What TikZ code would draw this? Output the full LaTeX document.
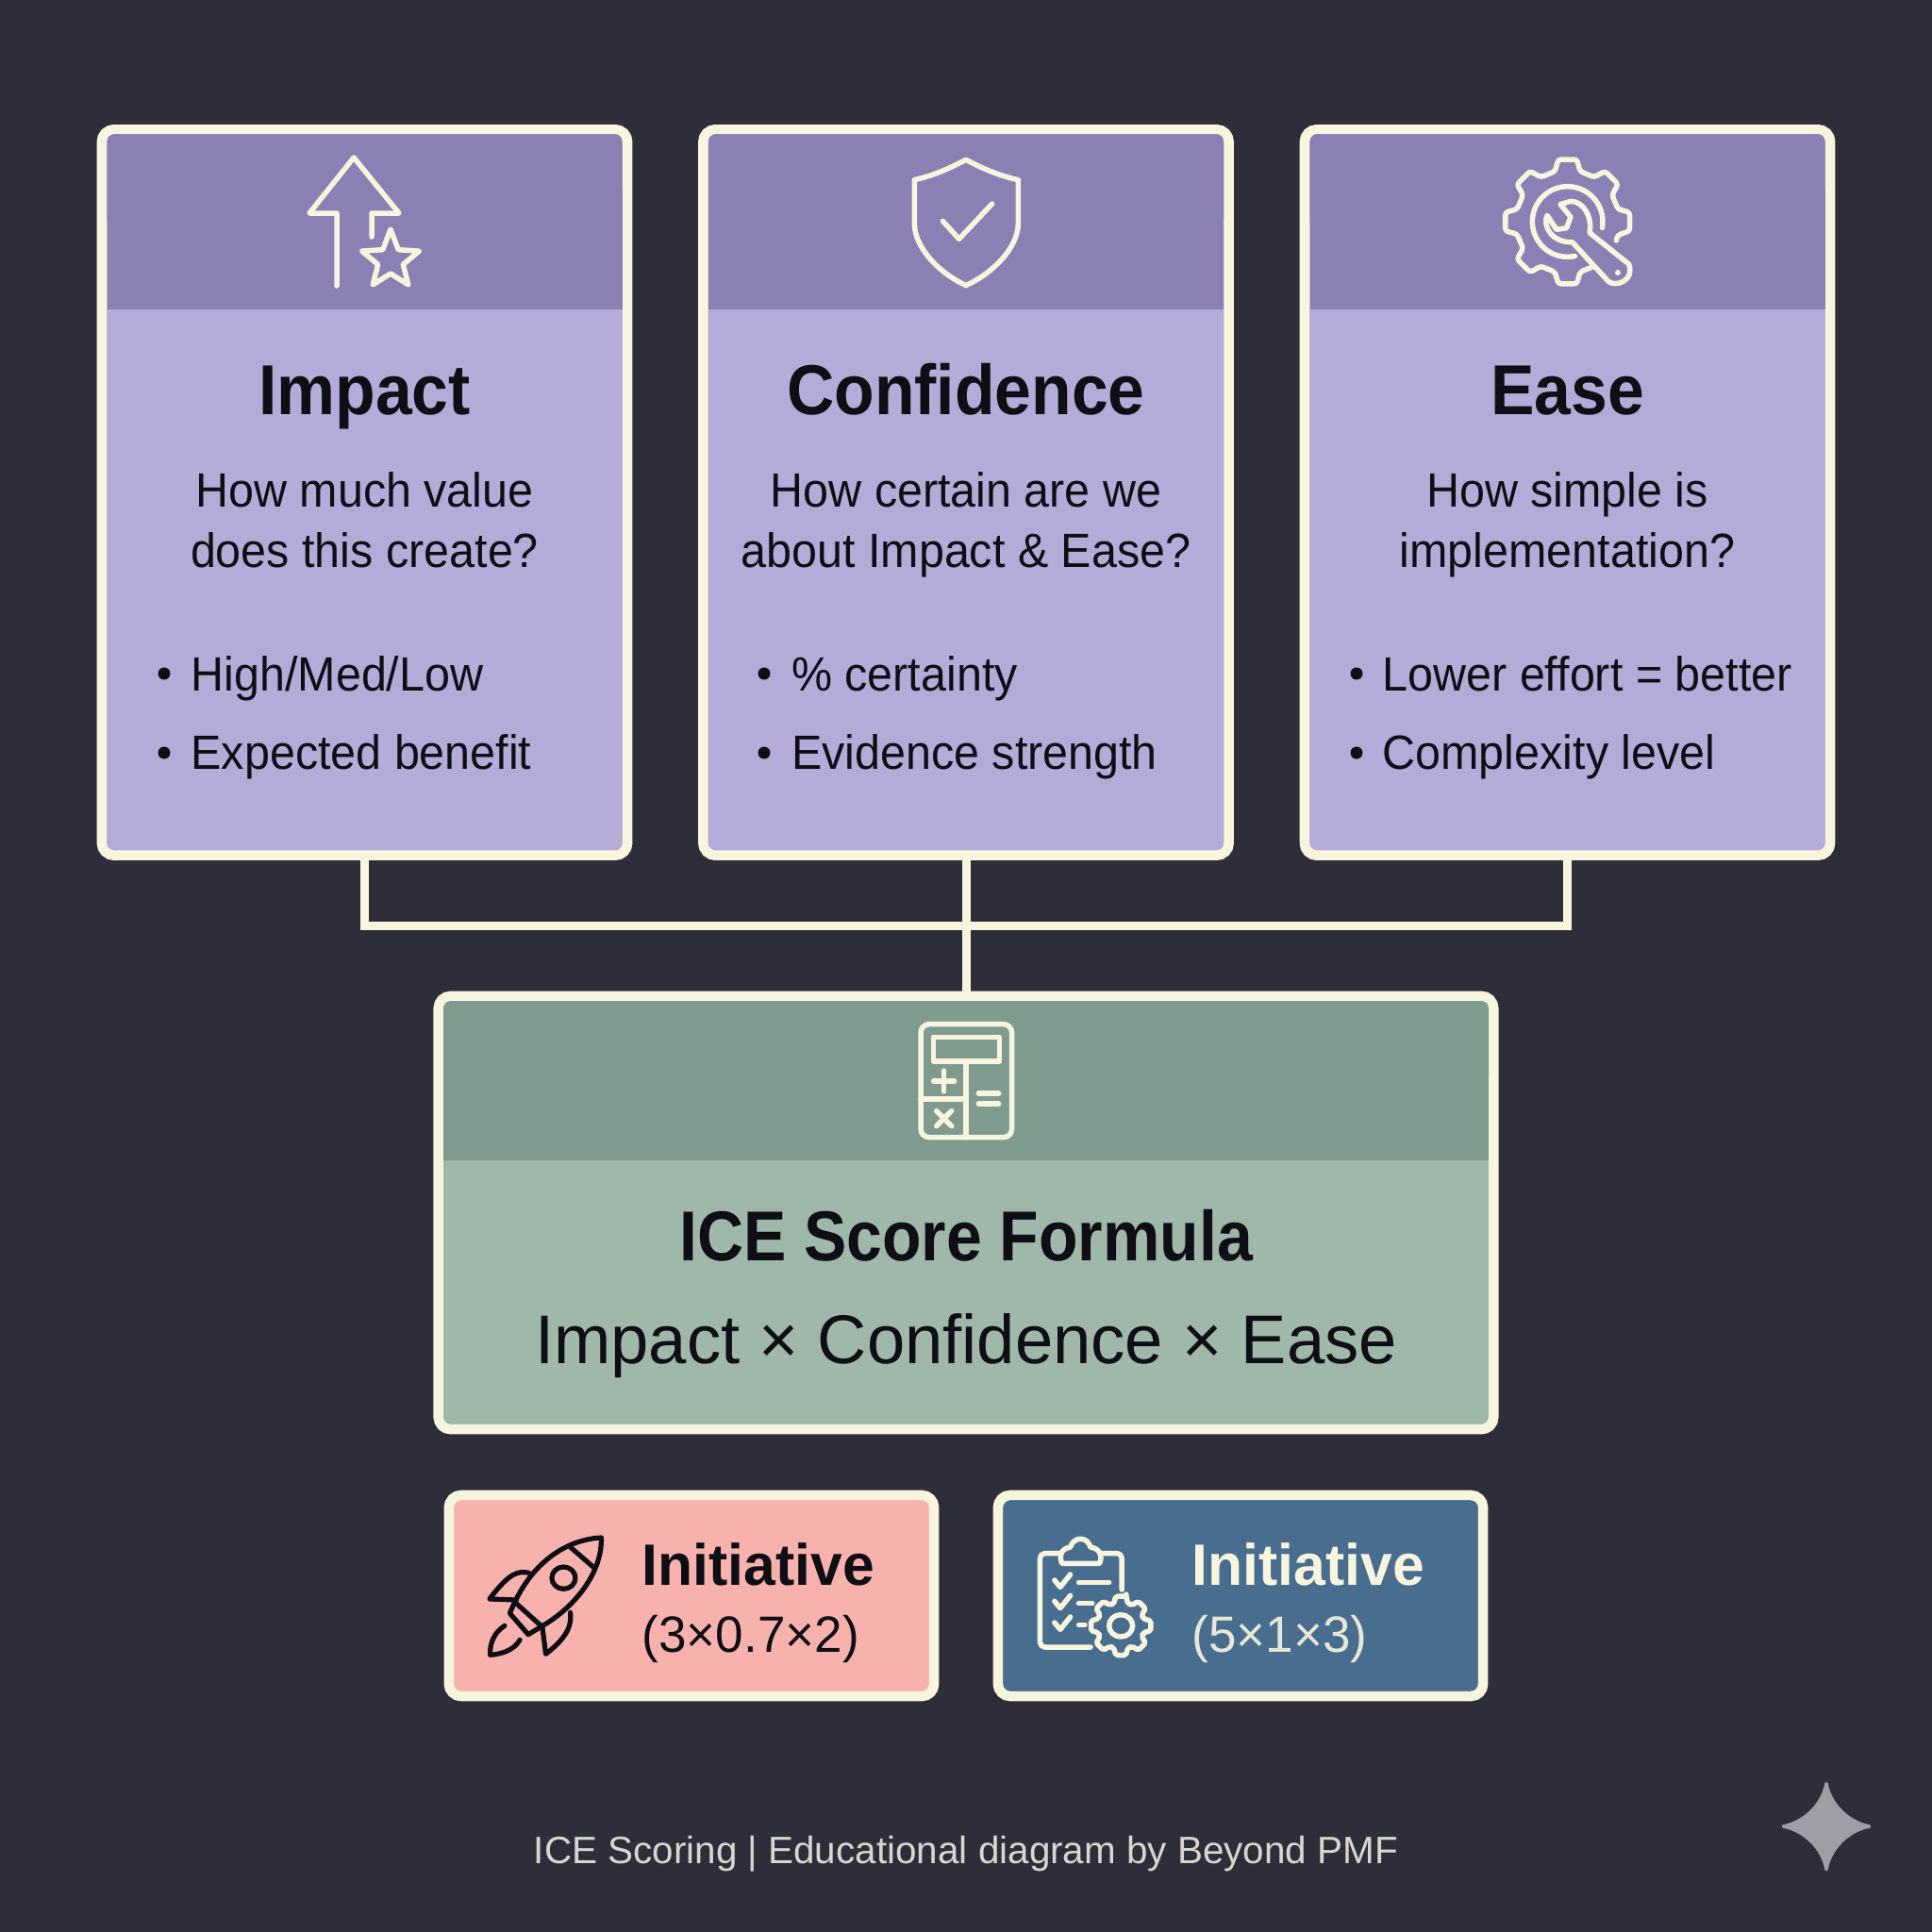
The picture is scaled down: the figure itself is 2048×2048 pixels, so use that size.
\documentclass[tikz,border=0pt]{standalone}
\usepackage{xcolor}
\usepackage{fontspec}
\setmainfont{Liberation Sans}
\usetikzlibrary{calc}
\definecolor{bgdark}{HTML}{2E2E3A}
\definecolor{creamline}{HTML}{F8F5DF}
\definecolor{purpleband}{HTML}{8A80B3}
\definecolor{purplebody}{HTML}{B4ABD9}
\definecolor{greenband}{HTML}{7F9A8E}
\definecolor{greenbody}{HTML}{9FB8A9}
\definecolor{pinkbody}{HTML}{F8B2AE}
\definecolor{bluebody}{HTML}{486D8F}
\definecolor{inkdark}{HTML}{0E0E14}
\definecolor{captiongrey}{HTML}{D8D6CE}
\definecolor{sparkgrey}{HTML}{9E9EA6}
\tikzset{
 boxframe/.style={draw=creamline,line width=0.105cm,rounded corners=0.13cm,inner sep=0,outer sep=0},
 link/.style={draw=creamline,line width=0.09cm},
 icon/.style={draw=creamline,line width=0.055cm,line cap=round,line join=round},
 darkicon/.style={draw=inkdark,line width=0.052cm,line cap=round,line join=round},
 titletext/.style={text=inkdark,anchor=base,xscale=0.93,font=\bfseries\fontsize{21.3}{25}\selectfont},
 asktext/.style={text=inkdark,anchor=base,xscale=0.95,font=\fontsize{14.5}{18}\selectfont},
 itemtext/.style={text=inkdark,anchor=base west,inner sep=0,xscale=0.95,font=\fontsize{14.5}{18}\selectfont},
 smallhead/.style={anchor=base west,inner sep=0,xscale=0.98,font=\bfseries\fontsize{17.6}{21}\selectfont},
 smallsum/.style={anchor=base west,inner sep=0,xscale=0.98,font=\fontsize{15.4}{18}\selectfont},
}
\begin{document}
\begin{tikzpicture}[x=0.01cm,y=-0.01cm]
\path[use as bounding box] (0,0) rectangle (2048,2048);
\fill[bgdark] (0,0) rectangle (2048,2048);
% three cards
\foreach \name/\cx/\bx/\tx/\ttl/\askA/\askB/\itemA/\itemB in {
 impact/386.5/174/202/Impact/How much value/does this create?/{High/Med/Low}/Expected benefit,
 confidence/1024/810/838.5/Confidence/How certain are we/about Impact \& Ease?/\% certainty/Evidence strength,
 ease/1661.5/1438/1465/Ease/How simple is/implementation?/Lower effort = better/Complexity level}{
 \node (\name) [boxframe,fill=purplebody,minimum width=5.57cm,minimum height=7.69cm] at (\cx,522) {};
 \fill[purpleband,rounded corners=0.08cm] (\cx-273,240) -- (\cx-273,142) -- (\cx+273,142) -- (\cx+273,240) -- cycle;
 \fill[purpleband] (\cx-273,200) rectangle (\cx+273,328);
 \node (\name title) [titletext] at (\cx,439) {\ttl};
 \node (\name askA) [asktext] at (\cx,537) {\askA};
 \node (\name askB) [asktext] at (\cx,601) {\askB};
 \node (\name itemA) [itemtext] at (\tx,732) {\itemA};
 \node (\name itemB) [itemtext] at (\tx,815) {\itemB};
 \fill[inkdark] (\bx,714) circle (6.5) (\bx,798) circle (6.5);
}
% formula box
\node (formula) [boxframe,fill=greenbody,minimum width=11.18cm,minimum height=4.59cm] at (1024,1285.5) {};
\fill[greenband,rounded corners=0.08cm] (470,1150) -- (470,1061) -- (1578,1061) -- (1578,1150) -- cycle;
\fill[greenband] (470,1100) rectangle (1578,1230);
\node (formula title) [titletext,xscale=0.975] at (1024,1336) {ICE Score Formula};
\node (formula text) [text=inkdark,anchor=base,xscale=0.99,font=\fontsize{20.8}{25}\selectfont] at (1024,1445) {Impact × Confidence × Ease};
% connectors
\coordinate (hub) at (1024,981);
\draw[link] (impact.south) |- (hub) -| (ease.south);
\draw[link] (confidence.south) -- (formula.north);
% two initiatives
\node (rocketbox) [boxframe,fill=pinkbody,minimum width=5.14cm,minimum height=2.13cm] at (733,1691.5) {};
\node (gearbox) [boxframe,fill=bluebody,minimum width=5.14cm,minimum height=2.13cm] at (1315,1691.5) {};
\node (rockethead) [smallhead,text=inkdark] at (680,1680) {Initiative};
\node (rocketsum) [smallsum,text=inkdark] at (680,1751) {(3×0.7×2)};
\node (gearhead) [smallhead,text=creamline] at (1263,1680) {Initiative};
\node (gearsum) [smallsum,text=creamline!90!bluebody] at (1263,1751) {(5×1×3)};
% caption
\node (caption) [text=captiongrey,anchor=base,font=\fontsize{11.5}{14}\selectfont] at (1024,1975) {ICE Scoring | Educational diagram by Beyond PMF};
% arrow and star
\draw[icon] (357,303) -- (357,226) -- (328,226) -- (375,167) -- (423,226) -- (394,226) -- (394,251);
\draw[icon] (414,243) \foreach \a in {1,2,3,4}{ -- ({414+14*sin(36+(\a-1)*72)},{276-14*cos(36+(\a-1)*72)}) -- ({414+32*sin(\a*72)},{276-32*cos(\a*72)}) } -- ({414+14*sin(324)},{276-14*cos(324)}) -- cycle;
% shield
\begin{scope}[shift={(900,120)},scale=0.3333]
\draw[icon] (372,148) .. controls (320,175) and (270,198) .. (208,212) -- (208,350) .. controls (208,430) and (290,510) .. (372,548) .. controls (454,510) and (538,430) .. (538,350) -- (538,212) .. controls (474,198) and (424,175) .. (372,148) -- cycle;
\draw[icon] (298,343) -- (350,400) -- (455,288);
\end{scope}
% gear and wrench
\begin{scope}[shift={(1550,120)},scale=0.3333]
\draw[icon,rounded corners=0.03cm] (490,405) -- ({335+165*cos(-15)},{345-165*sin(-15)}) \foreach \a in {0,45,...,270}{ -- ({335+200*cos(\a-8.5)},{345-200*sin(\a-8.5)}) -- ({335+200*cos(\a+8.5)},{345-200*sin(\a+8.5)}) -- ({335+165*cos(\a+14)},{345-165*sin(\a+14)}) -- ({335+165*cos(\a+31)},{345-165*sin(\a+31)}) };
\draw[icon] plot[domain=-10:282,samples=50] ({335+112*cos(\x)},{345-112*sin(\x)});
\draw[icon] (405,380) .. controls (415,330) and (385,280) .. (345,280) -- (312,290) -- (345,330) -- (332,365) -- (300,370) -- (270,325) .. controls (255,360) and (285,412) .. (350,410) -- (465,535) .. controls (490,555) and (550,530) .. (530,480) -- cycle;
\fill[creamline] (495,507) circle (9);
\end{scope}
% calculator
\begin{scope}[shift={(900,1030)},scale=0.3333]
\draw[icon,rounded corners=0.09cm] (228,167) rectangle (518,527);
\draw[icon] (268,208) rectangle (478,285);
\draw[icon] (372,285) -- (372,527) (228,405) -- (372,405);
\draw[icon] (269,348) -- (335,348) (302,315) -- (302,381);
\draw[icon] (278,443) -- (326,491) (326,443) -- (278,491);
\draw[icon] (412,387) -- (476,387) (412,420) -- (476,420);
\end{scope}
% rocket
\begin{scope}[shift={(460,1560)},xscale=0.357,yscale=0.3333]
\draw[darkicon] (497,210) .. controls (400,215) and (300,280) .. (240,415) -- (225,450) -- (280,518) -- (320,492) .. controls (420,430) and (500,320) .. (497,210) -- cycle;
\draw[darkicon] (240,415) -- (320,492) (405,240) -- (475,305);
\draw[darkicon] (385,338) circle (35);
\draw[darkicon] (282,322) .. controls (250,315) and (225,320) .. (165,405) -- (245,408);
\draw[darkicon] (405,448) .. controls (408,480) and (405,520) .. (332,580) -- (322,495);
\draw[darkicon] (210,490) .. controls (180,510) and (165,545) .. (167,583) .. controls (205,580) and (240,565) .. (255,535);
\end{scope}
% clipboard and gear
\begin{scope}[shift={(1040,1560)},xscale=0.357,yscale=0.3333]
\draw[icon,rounded corners=0.05cm] (235,260) -- (175,260) -- (175,558) -- (325,558);
\draw[icon,rounded corners=0.05cm] (355,260) -- (418,260) -- (418,375);
\draw[icon] (240,292) .. controls (232,270) and (235,245) .. (265,240) .. controls (275,205) and (315,205) .. (325,240) .. controls (355,245) and (360,270) .. (352,292) -- cycle;
\foreach \y/\w in {345/380,412/330,480/308}{
 \draw[icon] (218,\y) -- (235,\y+22) -- (265,\y-18);
 \draw[icon] (290,\y+7) -- (\w,\y+7);
}
\draw[icon,rounded corners=0.02cm] ({415+90*cos(80)},{490-95*sin(80)}) \foreach \a in {90,135,...,405}{ -- ({415+90*cos(\a+10)},{490-95*sin(\a+10)}) -- ({415+70*cos(\a+17)},{490-74*sin(\a+17)}) -- ({415+70*cos(\a+28)},{490-74*sin(\a+28)}) -- ({415+90*cos(\a+35)},{490-95*sin(\a+35)}) } -- cycle;
\draw[icon] (415,490) circle (35);
\end{scope}
% sparkle
\begin{scope}[shift={(1840,1860)},scale=0.3333]
\filldraw[sparkgrey,line width=0.035cm,line join=round] (288,92) .. controls (300,160) and (360,216) .. (425,228) .. controls (360,240) and (300,296) .. (288,365) .. controls (276,296) and (216,240) .. (151,228) .. controls (216,216) and (276,160) .. (288,92) -- cycle;
\end{scope}
\end{tikzpicture}
\end{document}
